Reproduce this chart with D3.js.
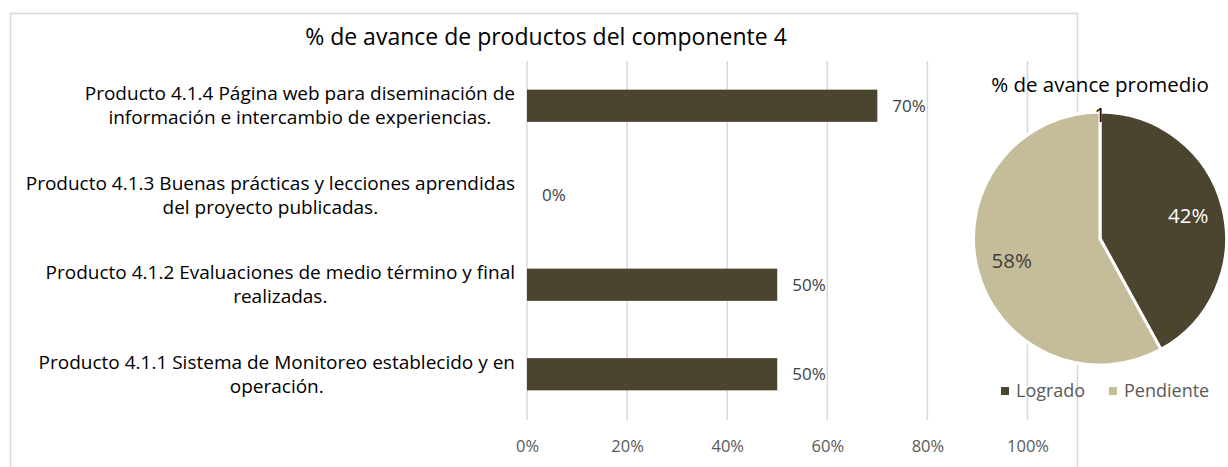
<!DOCTYPE html>
<html>
<head>
<meta charset="utf-8">
<script src="https://d3js.org/d3.v7.min.js"></script>
<style>
  body { margin: 0; background: #fff; }
  svg { display: block; font-family: "Open Sans", "Noto Sans", sans-serif; }
</style>
</head>
<body>
<div id="chart"></div>
<script>
// bar chart data (top to bottom)
var productos = [
  ["Producto 4.1.4 Página web para diseminación de", "información e intercambio de experiencias."],
  ["Producto 4.1.3 Buenas prácticas y lecciones aprendidas", "del proyecto publicadas."],
  ["Producto 4.1.2 Evaluaciones de medio término y final", "realizadas."],
  ["Producto 4.1.1 Sistema de Monitoreo establecido y en", "operación."]
];
var avance = [0.70, 0.00, 0.50, 0.50];
var xTicks = [0, 0.2, 0.4, 0.6, 0.8, 1.0];

// pie data
var pieNames = ["Logrado", "Pendiente"];
var pieValues = [0.42, 0.58];
var pieColors = ["#4b442e", "#c5bd99"];

var W = 1228, H = 467;
var fmt = d3.format(".0%");
var svg = d3.select("#chart").append("svg")
  .attr("width", W).attr("height", H);

// frame of the bar chart
svg.append("rect")
  .attr("x", 10.5).attr("y", 13.5)
  .attr("width", 1067).attr("height", 500)
  .attr("fill", "#fff")
  .attr("stroke", "#d9d9d9").attr("stroke-width", 1.5);

svg.append("text")
  .attr("x", 546).attr("y", 45)
  .attr("text-anchor", "middle")
  .style("font-size", "23px")
  .attr("fill", "#000")
  .text("% de avance de productos del componente 4");

var x = d3.scaleLinear().domain([0, 1]).range([527, 1027.5]);
var y = d3.scaleBand().domain(d3.range(productos.length))
  .range([61, 419]).paddingInner(0.64).paddingOuter(0.32);

// gridlines
svg.append("g").selectAll("line")
  .data(xTicks).enter().append("line")
  .attr("x1", function (d) { return x(d); })
  .attr("x2", function (d) { return x(d); })
  .attr("y1", 61).attr("y2", 420)
  .attr("stroke", "#d9d9d9").attr("stroke-width", 1.5);

// x axis labels
var xAxis = svg.append("g")
  .attr("transform", "translate(0,420)")
  .call(d3.axisBottom(x).tickValues(xTicks).tickFormat(fmt).tickSize(0).tickPadding(20));
xAxis.select(".domain").remove();
xAxis.selectAll("text")
  .style("font-size", "16.5px")
  .style("font-family", "\"Open Sans\", sans-serif")
  .attr("fill", "#595959");

// bars
svg.append("g").selectAll("rect")
  .data(avance).enter().append("rect")
  .attr("x", x(0))
  .attr("y", function (d, i) { return y(i); })
  .attr("width", function (d) { return x(d) - x(0); })
  .attr("height", y.bandwidth())
  .attr("fill", pieColors[0]);

// data labels
svg.append("g").selectAll("text")
  .data(avance).enter().append("text")
  .attr("x", function (d) { return x(d) + 15; })
  .attr("y", function (d, i) { return y(i) + y.bandwidth() / 2; })
  .attr("dy", "0.35em")
  .style("font-size", "17px")
  .attr("fill", "#404040")
  .text(function (d) { return fmt(d); });

// category labels: one text per category, lines centered, block right aligned
var catG = svg.append("g");
productos.forEach(function (lines, i) {
  var cy = y(i) + y.bandwidth() / 2;
  var t = catG.append("text")
    .attr("text-anchor", "middle")
    .style("font-size", "19px")
    .attr("fill", "#000");
  var spans = t.selectAll("tspan").data(lines).enter().append("tspan")
    .attr("y", function (d, j) { return cy + (j - (lines.length - 1) / 2) * 24; })
    .attr("dy", "0.35em")
    .text(function (d) { return d; });
  var maxW = 0;
  spans.each(function () { maxW = Math.max(maxW, this.getComputedTextLength()); });
  spans.attr("x", 515 - maxW / 2);
});

// pie chart
var cx = 1100, cy = 238.5, R = 126.5;
svg.append("text")
  .attr("x", cx).attr("y", 92)
  .attr("text-anchor", "middle")
  .style("font-size", "20.5px")
  .attr("fill", "#000")
  .text("% de avance promedio");

var pie = d3.pie().sort(null).value(function (d) { return d; });
var arc = d3.arc().innerRadius(0).outerRadius(R);
var labelArc = d3.arc().innerRadius(R * 0.72).outerRadius(R * 0.72);
var pg = svg.append("g").attr("transform", "translate(" + cx + "," + cy + ")");
var arcs = pie(pieValues);
pg.selectAll("path").data(arcs).enter().append("path")
  .attr("d", arc)
  .attr("fill", function (d, i) { return pieColors[i]; })
  .attr("stroke", "#fff").attr("stroke-width", 3);
pg.selectAll("text").data(arcs).enter().append("text")
  .attr("transform", function (d) { return "translate(" + labelArc.centroid(d) + ")"; })
  .attr("text-anchor", "middle")
  .attr("dy", "0.35em")
  .style("font-size", "20.5px")
  .attr("fill", function (d, i) { return i === 0 ? "#fff" : "#404040"; })
  .text(function (d) { return fmt(d.data); });

svg.append("text")
  .attr("x", cx).attr("y", 122)
  .attr("text-anchor", "middle")
  .style("font-size", "20.5px")
  .attr("fill", "#000")
  .text("1");

// legend
var legX = [1001, 1109];
var leg = svg.append("g").selectAll("g").data(pieNames).enter().append("g")
  .attr("transform", function (d, i) { return "translate(" + legX[i] + ",391)"; });
leg.append("rect")
  .attr("x", 0).attr("y", -4).attr("width", 8).attr("height", 8)
  .attr("fill", function (d, i) { return pieColors[i]; });
leg.append("text")
  .attr("x", 15).attr("dy", "0.35em")
  .style("font-size", "18px")
  .attr("fill", "#595959")
  .text(function (d) { return d; });
</script>
</body>
</html>
